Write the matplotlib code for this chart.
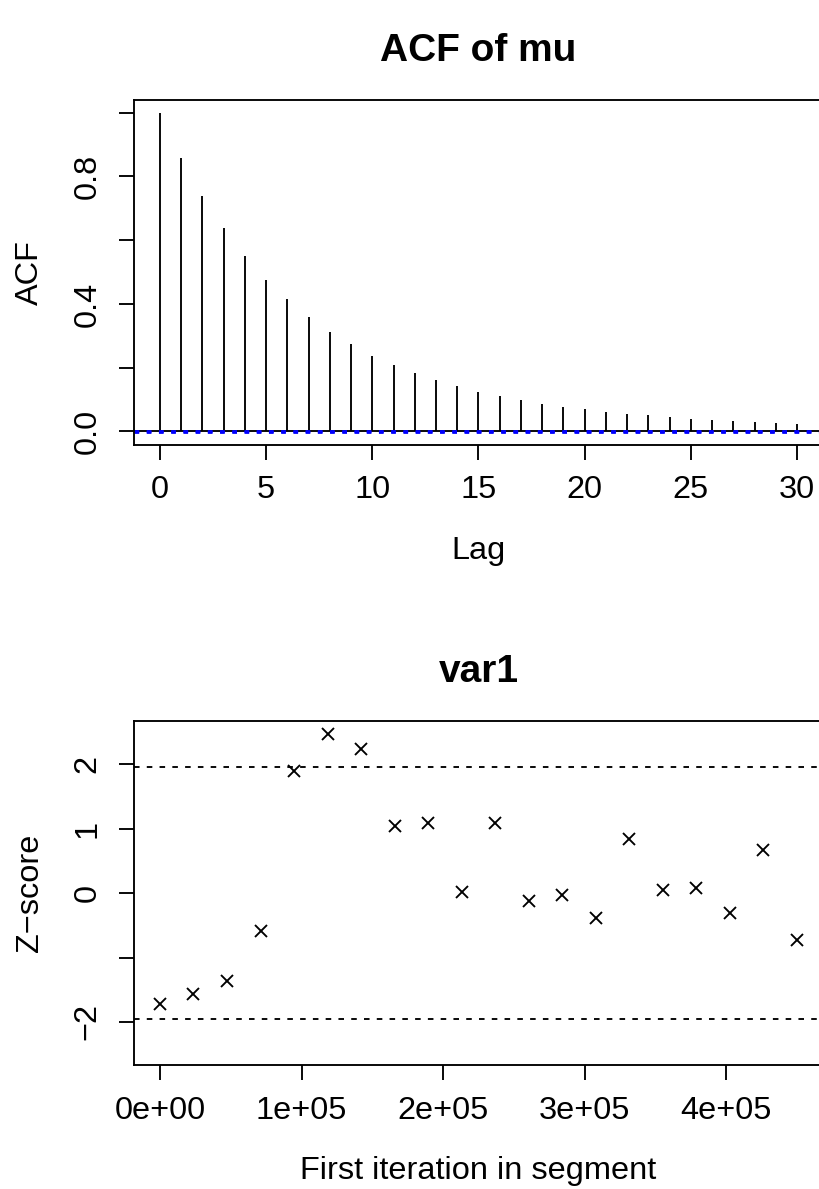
import matplotlib
matplotlib.use("Agg")
import matplotlib.pyplot as plt
import numpy as np

plt.rcParams['font.family'] = ['Liberation Sans', 'DejaVu Sans']
plt.rcParams['lines.scale_dashes'] = False

# ACF of mu
lags = list(range(31))
acf_vals = [1.0, 0.858, 0.738, 0.637, 0.551, 0.476, 0.414, 0.359, 0.312, 0.273,
            0.237, 0.209, 0.184, 0.161, 0.141, 0.124, 0.111, 0.098, 0.087, 0.077,
            0.069, 0.062, 0.055, 0.050, 0.045, 0.040, 0.037, 0.033, 0.030, 0.027,
            0.024]
clim = 0.002

# Geweke plot, var1
first_iter = [0, 23684, 47368, 71053, 94737, 118421, 142105, 165789, 189474, 213158,
              236842, 260526, 284211, 307895, 331579, 355263, 378947, 402632, 426316, 450000]
zscores = [-1.72, -1.57, -1.36, -0.59, 1.89, 2.475, 2.23, 1.04, 1.09, 0.02,
           1.08, -0.13, -0.03, -0.38, 0.84, 0.04, 0.08, -0.31, 0.67, -0.73]
zcrit = 1.96

LW = 1.35
FS = 23.4
TFS = 28

fig = plt.figure(figsize=(8.2, 11.89), dpi=100)

def style_axes(ax):
    for s in ax.spines.values():
        s.set_linewidth(LW)
    ax.tick_params(direction='out', length=10.8, width=LW, labelsize=FS)
    ax.tick_params(axis='x', pad=11)
    ax.tick_params(axis='y', pad=12)

# top panel
ax1 = fig.add_axes([0.164, 0.6257, 0.839, 0.2902])
ax1.vlines(lags, 0, acf_vals, color='black', lw=LW)
ax1.axhline(0, color='black', lw=LW)
ax1.axhline(clim, color='blue', lw=2.0, dashes=(3.4, 5.4))
ax1.axhline(-clim, color='blue', lw=2.0, dashes=(3.4, 5.4))
ax1.set_xlim(-1.2, 31.2)
ax1.set_ylim(-0.043, 1.04)
ax1.set_xticks(range(0, 31, 5))
ax1.set_yticks([0.0, 0.2, 0.4, 0.6, 0.8, 1.0])
ax1.set_yticklabels(['0.0', '', '0.4', '', '0.8', ''], rotation=90, va='center')
style_axes(ax1)
ax1.set_xlabel('Lag', fontsize=FS, labelpad=22)
ax1.set_ylabel('ACF', fontsize=FS, labelpad=20)
ax1.set_title('ACF of mu', fontsize=TFS, fontweight='bold', pad=28)

# bottom panel
ax2 = fig.add_axes([0.164, 0.1040, 0.839, 0.2898])
ax2.plot(first_iter, zscores, linestyle='', marker='x', color='black', ms=9.2, mew=LW)
ax2.axhline(zcrit, color='black', lw=LW, dashes=(4, 5.2))
ax2.axhline(-zcrit, color='black', lw=LW, dashes=(4, 5.2))
ax2.set_xlim(-18000, 468000)
ax2.set_ylim(-2.673, 2.673)
ax2.set_xticks([0, 100000, 200000, 300000, 400000])
ax2.set_xticklabels(['0e+00', '1e+05', '2e+05', '3e+05', '4e+05'])
ax2.set_yticks([-2, -1, 0, 1, 2])
ax2.set_yticklabels(['\u22122', '', '0', '1', '2'], rotation=90, va='center')
style_axes(ax2)
ax2.set_xlabel('First iteration in segment', fontsize=FS, labelpad=22)
ax2.set_ylabel('Z\u2212score', fontsize=FS, labelpad=20)
ax2.set_title('var1', fontsize=TFS, fontweight='bold', pad=28)

fig.savefig('out.png', dpi=100)
